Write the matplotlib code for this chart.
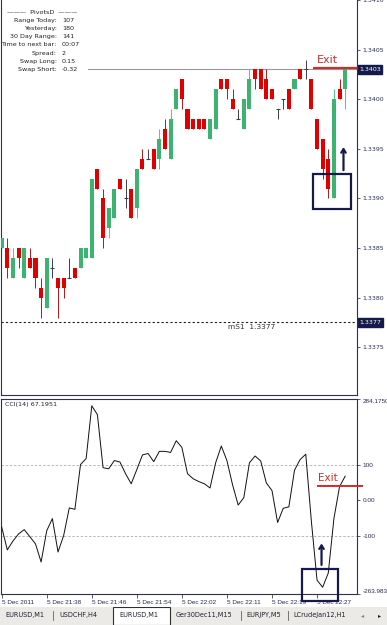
import matplotlib
matplotlib.use('Agg')
import matplotlib.pyplot as plt
from matplotlib.patches import Rectangle, FancyArrowPatch
from matplotlib import font_manager
import numpy as np

W, H = 387, 625

# ---------------- data ----------------
opens = [1.3385, 1.3385, 1.3382, 1.3385, 1.3382, 1.3384, 1.3384, 1.3381, 1.3379, 1.3383,
         1.3382, 1.3382, 1.3382, 1.3383, 1.3383, 1.3384, 1.3384, 1.3393, 1.3390, 1.3387,
         1.3388, 1.3392, 1.3390, 1.3391, 1.3389, 1.3394, 1.3394, 1.3395, 1.3394, 1.3397,
         1.3394, 1.3399, 1.3402, 1.3399, 1.3398, 1.3398, 1.3398, 1.3396, 1.3397, 1.3402,
         1.3402, 1.3400, 1.3398, 1.3397, 1.3399, 1.3403, 1.3403, 1.3402, 1.3401, 1.3399,
         1.3400, 1.3401, 1.3401, 1.3403, 1.3403, 1.3402, 1.3398, 1.3396, 1.3394, 1.3390,
         1.3401, 1.3401]
closes = [1.3386, 1.3383, 1.3384, 1.3384, 1.3385, 1.3383, 1.3382, 1.3380, 1.3384, 1.3383,
          1.3381, 1.3381, 1.3382, 1.3382, 1.3385, 1.3385, 1.3392, 1.3391, 1.3386, 1.3389,
          1.3391, 1.3391, 1.3390, 1.3388, 1.3393, 1.3393, 1.3394, 1.3393, 1.3396, 1.3395,
          1.3398, 1.3401, 1.3400, 1.3397, 1.3397, 1.3397, 1.3397, 1.3398, 1.3401, 1.3401,
          1.3401, 1.3399, 1.3398, 1.3400, 1.3402, 1.3402, 1.3401, 1.3400, 1.3400, 1.3399,
          1.3400, 1.3399, 1.3402, 1.3402, 1.3403, 1.3399, 1.3395, 1.3393, 1.3391, 1.3400,
          1.3400, 1.3403]
highs = [1.3386, 1.3386, 1.3385, 1.3385, 1.3385, 1.3385, 1.3384, 1.3382, 1.3384, 1.3384,
         1.3382, 1.3382, 1.3384, 1.3383, 1.3385, 1.3385, 1.3392, 1.3393, 1.3391, 1.3389,
         1.3391, 1.3392, 1.3392, 1.3391, 1.3393, 1.3395, 1.3395, 1.3395, 1.3397, 1.3398,
         1.3399, 1.3401, 1.3402, 1.3399, 1.3398, 1.3398, 1.3398, 1.3398, 1.3401, 1.3402,
         1.3402, 1.3401, 1.3399, 1.3400, 1.3403, 1.3403, 1.3403, 1.3403, 1.3401, 1.3399,
         1.3400, 1.3401, 1.3402, 1.3403, 1.3404, 1.3402, 1.3398, 1.3396, 1.3395, 1.3401,
         1.3402, 1.3403]
lows = [1.3385, 1.3382, 1.3382, 1.3383, 1.3382, 1.3383, 1.3381, 1.3378, 1.3379, 1.3382,
        1.3378, 1.3380, 1.3382, 1.3382, 1.3383, 1.3384, 1.3384, 1.3391, 1.3385, 1.3386,
        1.3388, 1.3391, 1.3389, 1.3388, 1.3388, 1.3393, 1.3394, 1.3393, 1.3393, 1.3395,
        1.3394, 1.3399, 1.3399, 1.3397, 1.3397, 1.3397, 1.3397, 1.3396, 1.3397, 1.3401,
        1.3400, 1.3399, 1.3398, 1.3397, 1.3399, 1.3401, 1.3401, 1.3400, 1.3400, 1.3398,
        1.3399, 1.3399, 1.3401, 1.3402, 1.3402, 1.3399, 1.3395, 1.3392, 1.3390, 1.3390,
        1.3400, 1.3399]
cci = [-76, -140, -115, -95, -83, -103, -123, -174, -86, -52,
       -146, -100, -22, -26, 100, 117, 265, 240, 91, 88,
       111, 107, 74, 46, 86, 127, 131, 108, 137, 137,
       134, 167, 148, 74, 60, 52, 46, 34, 105, 152,
       111, 43, -14, 7, 105, 124, 110, 48, 27, -63,
       -23, -19, 84, 114, 129, -60, -225, -245, -205, -52,
       38, 67.1951]

time_label_bars = [0, 8, 16, 24, 32, 40, 48, 56]
time_labels = ['5 Dec 2011', '5 Dec 21:38', '5 Dec 21:46', '5 Dec 21:54',
               '5 Dec 22:02', '5 Dec 22:11', '5 Dec 22:19', '5 Dec 22:27']
price_ticks = [1.3375, 1.3380, 1.3385, 1.3390, 1.3395, 1.3400, 1.3405, 1.3410]
cci_ticks = [284.175, 100, 0, -100, -263.983]
cci_tick_labels = ['284.1750', '100', '0.00', '-100', '-263.983']
cci_levels = [100, -100]
ms1_level = 1.33775
ms1_text = 'mS1  1.3377'
pivot_labels = ['Range Today:', 'Yesterday:', '30 Day Range:', 'Time to next bar:',
                'Spread:', 'Swap Long:', 'Swap Short:']
pivot_values = ['107', '180', '141', '00:07', '2', '0.15', '-0.32']
tabs = ['EURUSD,M1', 'USDCHF,H4', 'EURUSD,M1', 'Ger30Dec11,M15', 'EURJPY,M5', 'LCrudeJan12,H1']
tab_x = [5, 59, 119, 176, 246, 293]
tab_seps = [53, 241, 288]
active_tab = 2

# ---------------- styling ----------------
GREEN = '#3cb371'
RED = '#e00000'
DOJI = '#3c3c50'
NAVY = '#141a4a'
TXT = '#262c55'
FONT = 'DejaVu Sans'
plt.rcParams['font.family'] = [FONT]
names = {f.name for f in font_manager.fontManager.ttflist}
NARROW = 'Liberation Sans Narrow' if 'Liberation Sans Narrow' in names else 'Liberation Sans'
narrow_scale = 1.0 if NARROW == 'Liberation Sans Narrow' else 0.85

fig = plt.figure(figsize=(W / 100, H / 100), dpi=100)
fig.patch.set_facecolor('white')


def rect(x0, y0, x1, y1):
    return [x0 / W, 1 - y1 / H, (x1 - x0) / W, (y1 - y0) / H]


def fx(x):
    return x / W


def fy(y):
    return 1 - y / H


n = len(opens)
xs = np.arange(n)
XL = (-0.124, 63.1)

# ---------------- price panel ----------------
ax = fig.add_axes(rect(1, 0, 357, 395))
ax.set_xlim(*XL)
ax.set_ylim(1.337019, 1.341000)
o = np.array(opens); c = np.array(closes); h = np.array(highs); l = np.array(lows)
up = c > o
dn = c < o
dj = c == o
wick_col = np.where(up, '#5cc08a', np.where(dn, '#b01818', DOJI))
ax.vlines(xs, l, h, colors=wick_col, linewidth=0.7, zorder=2)
ax.bar(xs[up], (c - o)[up], bottom=o[up], width=0.72, color=GREEN, linewidth=0, zorder=3)
ax.bar(xs[dn], (c - o)[dn], bottom=o[dn], width=0.72, color=RED, linewidth=0, zorder=3)
ax.hlines(o[dj], xs[dj] - 0.36, xs[dj] + 0.36, colors=DOJI, linewidth=0.8, zorder=3)

# bid line (starts after the pivot text block)
ax.axhline(closes[-1], xmin=(88 - 1) / 356, xmax=1, color='#9a9a9a', linewidth=0.8, zorder=1)
# mS1 level
ax.axhline(ms1_level, color='#202020', linewidth=0.8, linestyle=(0, (2, 2)), zorder=1)
ax.text(40.2, ms1_level - 0.00002, ms1_text, fontsize=5.3, color='#303040', va='top', ha='left')

ax.yaxis.tick_right()
ax.set_yticks(price_ticks)
ax.set_yticklabels(['%.4f' % p for p in price_ticks])
ax.tick_params(axis='y', direction='out', length=2.5, width=0.6, colors='#40405a',
               labelsize=4.5, labelcolor=TXT, pad=1.5)
ax.set_xticks([])
ax.spines['top'].set_visible(False)
for s in ['left', 'right', 'bottom']:
    ax.spines[s].set_color('#30304a')
    ax.spines[s].set_linewidth(0.8)

# highlighted price labels
for val in [closes[-1], ms1_level]:
    ax.text(1.006, val, '%.4f' % (np.floor(val * 10000) / 10000), transform=ax.get_yaxis_transform(),
            fontsize=4.5, color='white', va='center', ha='left',
            bbox=dict(boxstyle='square,pad=0.25', fc=NAVY, ec=NAVY), clip_on=False, zorder=6)

# Exit annotation (price panel)
exit_price = 1.3403185
ax.plot([55.3, 64.0], [exit_price, exit_price], color='#d42a2a', linewidth=1.6,
        solid_capstyle='butt', clip_on=False, zorder=5)
ax.text(56.0, exit_price + 0.000025, 'Exit', fontsize=8, color='#c83030', ha='left', va='bottom', zorder=5)
ax.add_patch(Rectangle((55.3, 1.338897), 62.0 - 55.3, 1.339247 - 1.338897, fill=False,
                       ec=NAVY, lw=1.6, zorder=5, clip_on=False))
ax.add_patch(FancyArrowPatch((60.7, 1.339257), (60.7, 1.339545), arrowstyle='->,head_length=2.5,head_width=1.6',
                             color=NAVY, lw=1.6, zorder=5, mutation_scale=1))

# pivots text block
fig.text(fx(42), fy(12.7), '\u2014\u2014\u2014  PivotsD  \u2014\u2014\u2014', fontsize=4.6, color='#202020',
         ha='center', va='center')
for i, (lab, val) in enumerate(zip(pivot_labels, pivot_values)):
    yy = 20.7 + 8.1 * i
    fig.text(fx(56.5), fy(yy), lab, fontsize=4.6, color='#202020', ha='right', va='center')
    fig.text(fx(62), fy(yy), val, fontsize=4.6, color='#202020', ha='left', va='center')

# ---------------- CCI panel ----------------
ax2 = fig.add_axes(rect(1, 399, 357, 594))
ax2.set_xlim(*XL)
ax2.set_ylim(-263.983, 284.175)
ax2.plot(xs, cci, color='#101010', linewidth=0.7, zorder=3)
for lv in cci_levels:
    ax2.axhline(lv, color='#b0b0b0', linewidth=0.6, linestyle=(0, (3, 2)), zorder=1)
ax2.text(0.6, 275, 'CCI(14) %.4f' % cci[-1], fontsize=4.6, color='#202030', ha='left', va='top')
ax2.yaxis.tick_right()
ax2.set_yticks(cci_ticks)
ax2.set_yticklabels(cci_tick_labels)
for lab, val in zip(ax2.get_yticklabels(), cci_ticks):
    if val == cci_ticks[0]:
        lab.set_va('top')
    elif val == cci_ticks[-1]:
        lab.set_va('bottom')
ax2.tick_params(axis='y', direction='out', length=2.5, width=0.6, colors='#40405a',
                labelsize=4.5, labelcolor=TXT, pad=1.5)
for lab in ax2.get_yticklabels():
    lab.set_fontfamily([NARROW, FONT])
    lab.set_fontsize(5.4 * narrow_scale)
ax2.set_xticks(time_label_bars)
ax2.set_xticklabels(time_labels)
ax2.tick_params(axis='x', direction='out', length=3, width=0.6, colors='#40405a',
                labelcolor=TXT, pad=1.5)
for lab in ax2.get_xticklabels():
    lab.set_ha('left')
    lab.set_fontfamily([NARROW, FONT])
    lab.set_fontsize(5.4 * narrow_scale)
for s in ['left', 'right', 'bottom', 'top']:
    ax2.spines[s].set_color('#30304a')
    ax2.spines[s].set_linewidth(0.8)

# CCI exit annotation
cci_exit = 41
ax2.plot([56.0, 64.2], [cci_exit, cci_exit], color='#d42a2a', linewidth=1.4,
         solid_capstyle='butt', clip_on=False, zorder=5)
ax2.text(56.2, cci_exit + 6, 'Exit', fontsize=7.5, color='#c83030', ha='left', va='bottom', zorder=5)
ax2.add_patch(Rectangle((53.3, -283), 59.7 - 53.3, -193 - (-283), fill=False,
                        ec=NAVY, lw=1.6, zorder=5, clip_on=False))
ax2.add_patch(FancyArrowPatch((56.8, -190), (56.8, -114), arrowstyle='->,head_length=2.5,head_width=1.6',
                              color=NAVY, lw=1.6, zorder=5, mutation_scale=1))

# ---------------- tab bar ----------------
tb = fig.add_axes(rect(0, 607, 387, 625))
tb.set_xlim(0, W)
tb.set_ylim(625, 607)
tb.axis('off')
tb.add_patch(Rectangle((0, 607), W, 18, fc='#ebeae6', ec='none'))
tb.add_patch(Rectangle((113, 606.5), 57, 18.5, fc='white', ec='#303030', lw=0.8))
for i, (t, x) in enumerate(zip(tabs, tab_x)):
    tb.text(x, 615.5, t, fontsize=4.7, color='#202030', ha='left', va='center')
for sx in tab_seps:
    tb.plot([sx, sx], [611, 620], color='#606060', lw=0.6)
tb.text(363, 615.5, '\u25c2', fontsize=4.5, color='#808080', ha='center', va='center')
tb.text(380, 615.5, '\u25b8', fontsize=4.5, color='#202020', ha='center', va='center')

fig.savefig('out.png', dpi=100, facecolor='white')
